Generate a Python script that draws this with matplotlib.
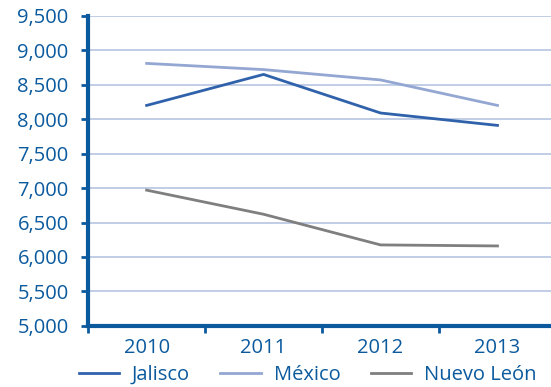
import matplotlib
matplotlib.use("Agg")
from matplotlib import pyplot as plt
from matplotlib.ticker import FuncFormatter

years = ["2010", "2011", "2012", "2013"]
jalisco = [8200, 8650, 8090, 7910]
mexico = [8810, 8720, 8570, 8200]
nuevo_leon = [6970, 6620, 6175, 6160]
series_names = ["Jalisco", "México", "Nuevo León"]

blue = "#0B5A9E"
plt.rcParams['font.family'] = ['Open Sans', 'DejaVu Sans']

fig = plt.figure(figsize=(5.51, 3.87), dpi=100)
ax = fig.add_axes([0.16, 0.158, 0.849, 0.801])

x = range(len(years))
ax.plot(x, jalisco, color="#2F62AB", lw=2, label=series_names[0])
ax.plot(x, mexico, color="#93A7D2", lw=2, label=series_names[1])
ax.plot(x, nuevo_leon, color="#7F7F7F", lw=2, label=series_names[2])

ax.set_ylim(5000, 9500)
ax.set_yticks(range(5000, 9501, 500))
ax.yaxis.set_major_formatter(FuncFormatter(lambda v, p: f"{int(v):,}"))
ax.set_xlim(-0.5, 3.5)
ax.set_xticks([-0.5, 0.5, 1.5, 2.5, 3.5])
ax.set_xticklabels([])
ax.set_xticks(list(x), minor=True)
ax.set_xticklabels(years, minor=True)
ax.tick_params(axis="x", which="minor", length=0, labelsize=14.5, labelcolor=blue, pad=9)
ax.tick_params(axis="x", which="major", length=5, width=2, color=blue, direction="out")
ax.tick_params(axis="y", length=5, width=2, color=blue, labelsize=14.5, labelcolor=blue, pad=9)

ax.grid(axis="y", color="#B6C4E2", lw=1.2)
ax.set_axisbelow(True)
for s in ["top", "right"]:
    ax.spines[s].set_visible(False)
for s in ["left", "bottom"]:
    ax.spines[s].set_color(blue)
    ax.spines[s].set_linewidth(3)

leg = fig.legend(loc="center left", bbox_to_anchor=(0.11, 0.031), ncol=3, frameon=False,
                 fontsize=14.5, handlelength=2.0, columnspacing=1.5, handletextpad=0.65)
for t in leg.get_texts():
    t.set_color(blue)

fig.savefig("out.png", dpi=100)
